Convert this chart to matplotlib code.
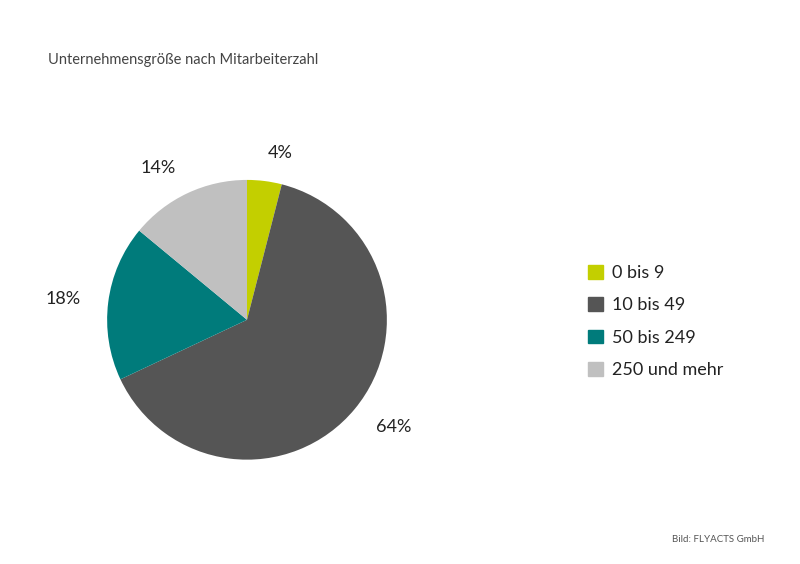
import matplotlib.pyplot as plt
from matplotlib.patches import Patch

plt.rcParams['font.family'] = ['Lato', 'DejaVu Sans']

categories = ["0 bis 9", "10 bis 49", "50 bis 249", "250 und mehr"]
shares = [4, 64, 18, 14]
colors = ["#c3cf00", "#555555", "#007b7b", "#c0c0c0"]

fig = plt.figure(figsize=(8, 5.64), dpi=100)
ax = fig.add_axes([0.090, 0.123, 0.4375, 0.62])
ax.pie(shares, colors=colors, startangle=90, counterclock=False,
       labels=[f"{v}%" for v in shares], labeldistance=1.2,
       textprops={'fontsize': 13, 'color': '#222222'})
ax.set_aspect('equal')

handles = [Patch(color=c, label=l) for c, l in zip(colors, categories)]
fig.legend(handles=handles, loc='center left', bbox_to_anchor=(0.715, 0.43),
           frameon=False, fontsize=13, handlelength=0.8, handleheight=0.8,
           handletextpad=0.5, labelspacing=0.9, labelcolor='#222222')

fig.text(0.06, 0.893, "Unternehmensgröße nach Mitarbeiterzahl", fontsize=10.5, color='#444444', va='center')
fig.text(0.84, 0.043, "Bild: FLYACTS GmbH", fontsize=7, color='#555555', va='center')

plt.savefig("out.png")
